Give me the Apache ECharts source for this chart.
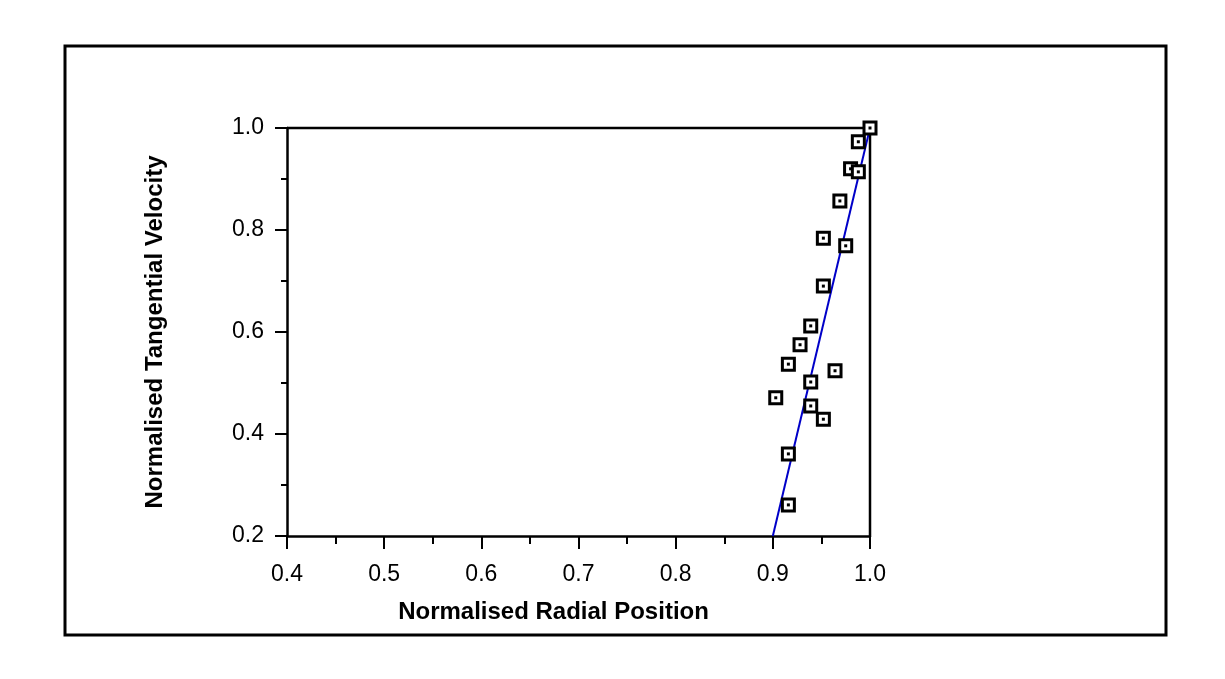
<!DOCTYPE html>
<html>
<head>
<meta charset="utf-8">
<script src="https://cdn.jsdelivr.net/npm/echarts@6/dist/echarts.min.js"></script>
<style>
  html, body { margin: 0; padding: 0; background: #fff; }
  #chart { width: 1225px; height: 679px; }
</style>
</head>
<body>
<div id="chart"></div>
<script>
// measured points (radial position, tangential velocity)
const radialPos = [1.0, 0.988, 0.980, 0.988, 0.969, 0.952, 0.975, 0.952, 0.939, 0.928,
  0.916, 0.964, 0.939, 0.903, 0.939, 0.952, 0.916, 0.916]
const tangVel = [1.0, 0.973, 0.920, 0.914, 0.857, 0.784, 0.769, 0.690, 0.612, 0.575,
  0.537, 0.524, 0.502, 0.471, 0.455, 0.429, 0.361, 0.261]

// fitted line
const fitX = [0.9, 1.0]
const fitY = [0.2, 1.0]

const xTicks = [0.4, 0.5, 0.6, 0.7, 0.8, 0.9, 1.0]
const yTicks = [0.2, 0.4, 0.6, 0.8, 1.0]

const points = radialPos.map((x, i) => [x, tangVel[i]])
const fitLine = fitX.map((x, i) => [x, fitY[i]])

const chart = echarts.init(document.getElementById('chart'), null, { renderer: 'canvas' })

const font = 'Liberation Sans, Arial, sans-serif'
const axisLine = { show: true, onZero: false, lineStyle: { color: '#000', width: 2.5 } }

chart.setOption({
  backgroundColor: '#fff',
  animation: false,
  graphic: [{
    type: 'rect',
    shape: { x: 65, y: 46, width: 1101, height: 589 },
    style: { fill: 'none', stroke: '#000', lineWidth: 3 }
  }, {
    // top and right edge of the plot box
    type: 'polyline',
    shape: { points: [[287, 128], [870, 128], [870, 536]] },
    style: { fill: 'none', stroke: '#000', lineWidth: 2.5 }
  }],
  grid: { left: 287, top: 128, width: 583, height: 408 },
  xAxis: {
    type: 'value',
    min: xTicks[0],
    max: xTicks[xTicks.length - 1],
    interval: 0.1,
    name: 'Normalised Radial Position',
    nameLocation: 'middle',
    nameGap: 64,
    nameTextStyle: {
      fontFamily: font, fontSize: 24, fontWeight: 'bold', color: '#000',
      padding: [0, 50, 0, 0]
    },
    axisLine,
    axisTick: { show: true, length: 13, lineStyle: { color: '#000', width: 2 } },
    minorTick: { show: true, splitNumber: 2, length: 8, lineStyle: { color: '#000', width: 2 } },
    axisLabel: {
      margin: 27, fontFamily: font, fontSize: 23, color: '#000',
      formatter: v => v.toFixed(1)
    },
    splitLine: { show: false }
  },
  yAxis: {
    type: 'value',
    min: yTicks[0],
    max: yTicks[yTicks.length - 1],
    interval: 0.2,
    name: 'Normalised Tangential Velocity',
    nameLocation: 'middle',
    nameGap: 120,
    nameTextStyle: { fontFamily: font, fontSize: 24, fontWeight: 'bold', color: '#000' },
    axisLine,
    axisTick: { show: true, length: 12, lineStyle: { color: '#000', width: 2 } },
    minorTick: { show: true, splitNumber: 2, length: 6, lineStyle: { color: '#000', width: 2 } },
    axisLabel: {
      margin: 23, fontFamily: font, fontSize: 23, color: '#000',
      formatter: v => v.toFixed(1)
    },
    splitLine: { show: false }
  },
  series: [{
    name: 'fit',
    type: 'line',
    data: fitLine,
    symbol: 'none',
    lineStyle: { color: '#0000c8', width: 2 },
    z: 3
  }, {
    name: 'measured',
    type: 'scatter',
    data: points,
    symbol: 'rect',
    symbolSize: 12,
    itemStyle: { color: '#fff', borderColor: '#000', borderWidth: 3, opacity: 1 },
    z: 4
  }, {
    name: 'measured-dot',
    type: 'scatter',
    data: points,
    symbol: 'rect',
    symbolSize: 3,
    itemStyle: { color: '#000', opacity: 1 },
    silent: true,
    z: 5
  }]
})
</script>
</body>
</html>
